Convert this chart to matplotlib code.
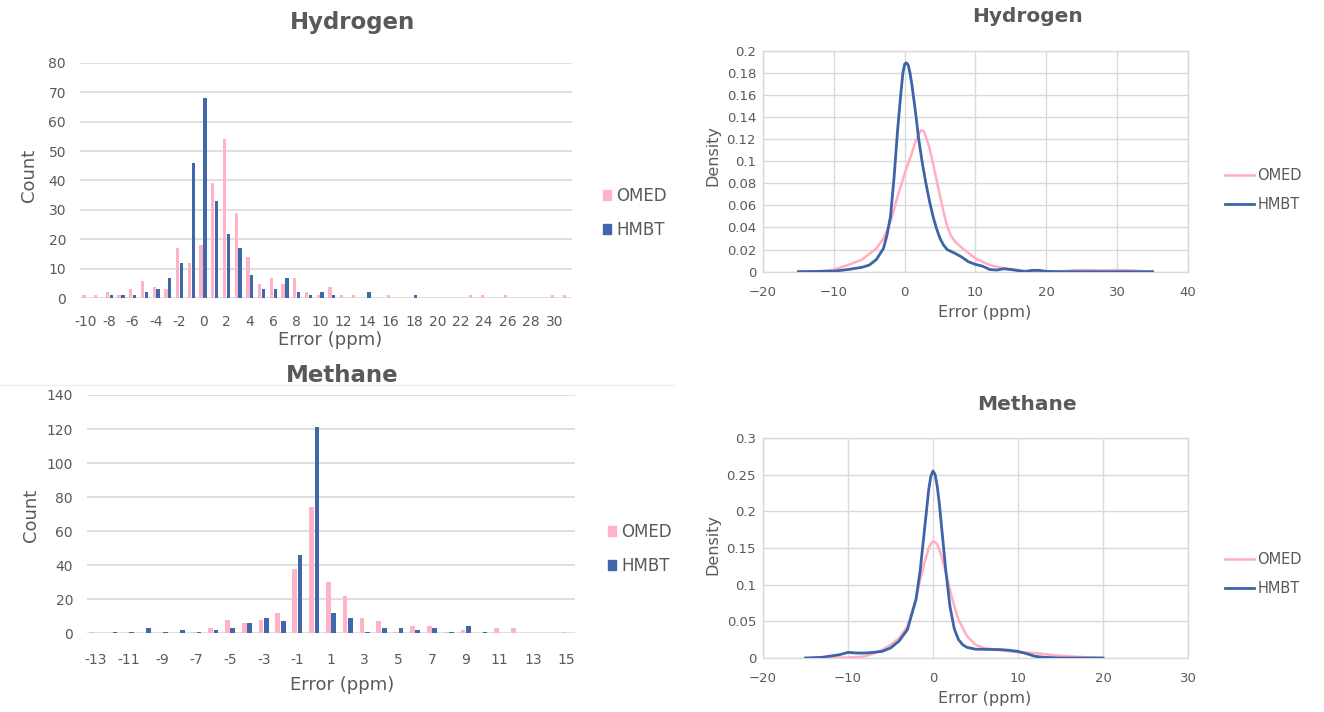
import matplotlib
matplotlib.use("Agg")
import matplotlib.pyplot as plt
import numpy as np
from matplotlib.lines import Line2D
from matplotlib.patches import Rectangle

# ---------------- data ----------------
h_cats = list(range(-10, 32))
h_omed = [1, 1, 2, 1, 3, 6, 4, 3, 17, 12, 18, 39, 54, 29, 14, 5, 7, 5, 7, 2,
          1, 4, 1, 1, 0, 0, 1, 0, 0, 0, 0, 0, 0, 1, 1, 0, 1, 0, 0, 0, 1, 1]
h_hmbt = [0, 0, 1, 1, 1, 2, 3, 7, 12, 46, 68, 33, 22, 17, 8, 3, 3, 7, 2, 1,
          2, 1, 0, 0, 2, 0, 0, 0, 1, 0, 0, 0, 0, 0, 0, 0, 0, 0, 0, 0, 0, 0]
h_ticklabels = [str(v) for v in range(-10, 31, 2)]

m_cats = list(range(-13, 16))
m_omed = [1, 0, 0, 0, 0, 0, 1, 3, 8, 6, 8, 12, 38, 74, 30, 22, 9, 7, 1, 4,
          4, 1, 2, 0, 3, 3, 0, 0, 1]
m_hmbt = [0, 1, 1, 3, 1, 2, 1, 2, 3, 6, 9, 7, 46, 121, 12, 9, 1, 3, 3, 2,
          3, 1, 4, 1, 0, 0, 0, 0, 0]
m_ticklabels = [str(v) for v in range(-13, 16, 2)]

# KDE curves
kh_omed_x = [-15, -12, -10, -8, -6, -4, -3, -2, -1, 0, 1, 1.5, 2, 2.3, 2.7, 3,
             3.5, 4, 4.5, 5, 5.5, 6, 6.5, 7, 8, 9, 10, 12, 14, 16, 18, 20, 22,
             24, 26, 28, 30, 32, 34, 35]
kh_omed_y = [0, 0.0003, 0.002, 0.006, 0.011, 0.021, 0.030, 0.045, 0.068, 0.089,
             0.107, 0.117, 0.125, 0.128, 0.127, 0.122, 0.112, 0.098, 0.083,
             0.068, 0.054, 0.041, 0.033, 0.028, 0.022, 0.017, 0.012, 0.006,
             0.003, 0.0015, 0.0006, 0, 0.0003, 0.0015, 0.0015, 0.0012, 0.0015,
             0.0012, 0.0003, 0]
kh_hmbt_x = [-15, -10, -8, -6, -5, -4, -3, -2.5, -2, -1.5, -1, -0.5, -0.25, 0,
             0.25, 0.5, 0.75, 1, 1.5, 2, 2.5, 3, 3.5, 4, 4.5, 5, 5.5, 6, 7, 8,
             9, 10, 11, 12, 13, 14, 15, 16, 17, 18, 19, 20, 22, 35]
kh_hmbt_y = [0, 0.0005, 0.002, 0.004, 0.006, 0.011, 0.021, 0.033, 0.05, 0.085,
             0.128, 0.164, 0.180, 0.188, 0.189, 0.187, 0.180, 0.170, 0.146,
             0.119, 0.098, 0.080, 0.064, 0.050, 0.039, 0.030, 0.024, 0.020,
             0.017, 0.0135, 0.009, 0.0066, 0.005, 0.002, 0.0015, 0.0027, 0.002,
             0.001, 0.0, 0.0012, 0.0012, 0.0003, 0, 0]

km_omed_x = [-12, -10, -8, -7, -6, -5, -4, -3, -2, -1.5, -1, -0.5, -0.25, 0,
             0.25, 0.5, 1, 1.5, 2, 2.5, 3, 4, 5, 6, 8, 10, 12, 14, 16, 18, 20]
km_omed_y = [0.0005, 0.0005, 0.0023, 0.006, 0.011, 0.018, 0.027, 0.043, 0.080,
             0.107, 0.130, 0.150, 0.156, 0.159, 0.158, 0.155, 0.139, 0.117,
             0.093, 0.071, 0.052, 0.030, 0.018, 0.0136, 0.0105, 0.0077, 0.0068,
             0.004, 0.0023, 0.001, 0]
km_hmbt_x = [-15, -13, -11, -10, -9, -8, -7, -6, -5, -4, -3, -2, -1.5, -1, -0.5,
             -0.25, 0, 0.25, 0.5, 0.75, 1, 1.5, 2, 2.5, 3, 3.5, 4, 5, 6, 8, 9,
             10, 11, 12, 13, 15, 20]
km_hmbt_y = [0, 0.001, 0.0045, 0.0077, 0.0068, 0.0068, 0.0077, 0.009, 0.0136,
             0.023, 0.039, 0.080, 0.120, 0.175, 0.230, 0.248, 0.255, 0.250,
             0.234, 0.210, 0.180, 0.120, 0.070, 0.040, 0.025, 0.018, 0.0145,
             0.012, 0.0118, 0.0114, 0.0105, 0.009, 0.006, 0.0023, 0.001, 0, 0]

# ---------------- style ----------------
PINK = "#FFB3C6"
BLUE = "#3F67AA"
PINK_L = "#FFAFC0"
BLUE_L = "#3D63A8"
TXT = "#595959"
GRID = "#D9D9D9"
plt.rcParams["font.family"] = ["DejaVu Sans"]

W, H = 1324, 712
fig = plt.figure(figsize=(W / 100, H / 100), dpi=100)


def px_axes(x0, x1, ytop, ybot):
    return fig.add_axes([x0 / W, 1 - ybot / H, (x1 - x0) / W, (ybot - ytop) / H])


def style_bar_axes(ax):
    for s in ax.spines.values():
        s.set_visible(False)
    ax.grid(axis="y", color=GRID, lw=1.2)
    ax.set_axisbelow(True)
    ax.tick_params(length=0, labelsize=10, colors=TXT)
    ax.tick_params(axis="y", pad=10)
    ax.tick_params(axis="x", pad=12)


def style_kde_axes(ax):
    for s in ax.spines.values():
        s.set_color(GRID)
        s.set_linewidth(1)
    ax.grid(True, color=GRID, lw=1)
    ax.set_axisbelow(True)
    ax.tick_params(length=0, labelsize=9.5, colors=TXT)
    ax.tick_params(axis="y", pad=5)
    ax.tick_params(axis="x", pad=10)


bw = 0.28
off = 0.16

# ---------- top-left: Hydrogen histogram ----------
ax1 = px_axes(80, 572, 62.7, 298.3)
xi = np.arange(len(h_cats))
ax1.bar(xi - off, h_omed, width=bw, color=PINK, zorder=3)
ax1.bar(xi + off, h_hmbt, width=bw, color=BLUE, zorder=3)
ax1.set_xlim(-0.5, len(h_cats) - 0.5)
ax1.set_ylim(0, 80)
ax1.set_yticks(range(0, 81, 10))
ax1.set_xticks(xi[::2])
ax1.set_xticklabels(h_ticklabels)
style_bar_axes(ax1)
ax1.set_ylabel("Count", fontsize=13, color=TXT)
ax1.yaxis.set_label_coords(-0.085, 0.523)
ax1.set_xlabel("Error (ppm)", fontsize=13, color=TXT)
ax1.xaxis.set_label_coords(0.508, -0.14)
ax1.legend(handles=[Rectangle((0, 0), 1, 1, color=PINK), Rectangle((0, 0), 1, 1, color=BLUE)],
           labels=["OMED", "HMBT"], loc="upper left", bbox_to_anchor=(588 / W, 1 - 172 / H),
           bbox_transform=fig.transFigure, frameon=False, handlelength=0.5, handleheight=0.5,
           handletextpad=0.3, labelspacing=0.95, fontsize=12, labelcolor=TXT)
fig.text(352 / W, 1 - 22 / H, "Hydrogen", ha="center", va="center", fontsize=16.5,
         fontweight="bold", color=TXT)

# ---------- bottom-left: Methane histogram ----------
ax2 = px_axes(87, 575, 395, 633.3)
xm = np.arange(len(m_cats))
ax2.bar(xm - off, m_omed, width=bw, color=PINK, zorder=3)
ax2.bar(xm + off, m_hmbt, width=bw, color=BLUE, zorder=3)
ax2.set_xlim(-0.5, len(m_cats) - 0.5)
ax2.set_ylim(0, 140)
ax2.set_yticks(range(0, 141, 20))
ax2.set_xticks(xm[::2])
ax2.set_xticklabels(m_ticklabels)
style_bar_axes(ax2)
ax2.tick_params(axis="x", pad=14)
ax2.set_ylabel("Count", fontsize=13, color=TXT)
ax2.yaxis.set_label_coords(-0.096, 0.496)
ax2.set_xlabel("Error (ppm)", fontsize=13, color=TXT)
ax2.xaxis.set_label_coords(0.523, -0.18)
ax2.legend(handles=[Rectangle((0, 0), 1, 1, color=PINK), Rectangle((0, 0), 1, 1, color=BLUE)],
           labels=["OMED", "HMBT"], loc="upper left", bbox_to_anchor=(593 / W, 1 - 508 / H),
           bbox_transform=fig.transFigure, frameon=False, handlelength=0.5, handleheight=0.5,
           handletextpad=0.3, labelspacing=0.95, fontsize=12, labelcolor=TXT)
fig.text(342 / W, 1 - 376 / H, "Methane", ha="center", va="center", fontsize=16.5,
         fontweight="bold", color=TXT)
fig.add_artist(Line2D([0, 675 / W], [1 - 385 / H, 1 - 385 / H], color="#EFEFEF", lw=1,
                      transform=fig.transFigure, zorder=0))

# ---------- top-right: Hydrogen KDE ----------
ax3 = px_axes(763, 1188, 50.7, 271.7)
ax3.plot(kh_omed_x, kh_omed_y, color=PINK_L, lw=1.8, zorder=3)
ax3.plot(kh_hmbt_x, kh_hmbt_y, color=BLUE_L, lw=2.0, zorder=4)
ax3.set_xlim(-20, 40)
ax3.set_ylim(0, 0.2)
ax3.set_xticks(range(-20, 41, 10))
ax3.set_yticks(np.arange(0, 0.201, 0.02))
ax3.set_yticklabels(["0", "0.02", "0.04", "0.06", "0.08", "0.1", "0.12", "0.14",
                     "0.16", "0.18", "0.2"])
style_kde_axes(ax3)
ax3.set_ylabel("Density", fontsize=11.5, color=TXT)
ax3.yaxis.set_label_coords(-0.101, 0.528)
ax3.set_xlabel("Error (ppm)", fontsize=11.5, color=TXT)
ax3.xaxis.set_label_coords(0.522, -0.15)
ax3.legend(handles=[Line2D([], [], color=PINK_L, lw=1.8), Line2D([], [], color=BLUE_L, lw=2)],
           labels=["OMED", "HMBT"], loc="upper left", bbox_to_anchor=(1212 / W, 1 - 155 / H),
           bbox_transform=fig.transFigure, frameon=False, handlelength=2.0,
           handletextpad=0.2, labelspacing=0.95, fontsize=10.5, labelcolor=TXT)
fig.text(1027 / W, 1 - 17 / H, "Hydrogen", ha="center", va="center", fontsize=14.5,
         fontweight="bold", color=TXT)

# ---------- bottom-right: Methane KDE ----------
ax4 = px_axes(763, 1188, 438, 658)
ax4.plot(km_omed_x, km_omed_y, color=PINK_L, lw=1.8, zorder=3)
ax4.plot(km_hmbt_x, km_hmbt_y, color=BLUE_L, lw=2.0, zorder=4)
ax4.set_xlim(-20, 30)
ax4.set_ylim(0, 0.3)
ax4.set_xticks(range(-20, 31, 10))
ax4.set_yticks(np.arange(0, 0.301, 0.05))
ax4.set_yticklabels(["0", "0.05", "0.1", "0.15", "0.2", "0.25", "0.3"])
style_kde_axes(ax4)
ax4.set_ylabel("Density", fontsize=11.5, color=TXT)
ax4.yaxis.set_label_coords(-0.101, 0.514)
ax4.set_xlabel("Error (ppm)", fontsize=11.5, color=TXT)
ax4.xaxis.set_label_coords(0.522, -0.15)
ax4.legend(handles=[Line2D([], [], color=PINK_L, lw=1.8), Line2D([], [], color=BLUE_L, lw=2)],
           labels=["OMED", "HMBT"], loc="upper left", bbox_to_anchor=(1212 / W, 1 - 539 / H),
           bbox_transform=fig.transFigure, frameon=False, handlelength=2.0,
           handletextpad=0.2, labelspacing=0.95, fontsize=10.5, labelcolor=TXT)
fig.text(1027 / W, 1 - 404 / H, "Methane", ha="center", va="center", fontsize=14.5,
         fontweight="bold", color=TXT)

fig.savefig("out.png", dpi=100, facecolor="white")
